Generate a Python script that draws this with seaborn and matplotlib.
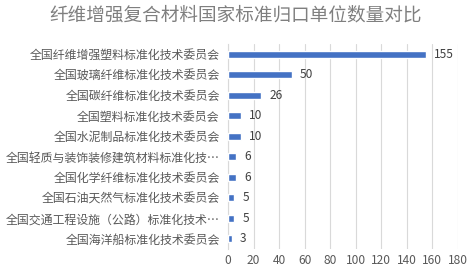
import matplotlib
matplotlib.use('Agg')
import matplotlib.pyplot as plt
import seaborn as sns
import pandas as pd

committees = ['全国纤维增强塑料标准化技术委员会', '全国玻璃纤维标准化技术委员会', '全国碳纤维标准化技术委员会',
              '全国塑料标准化技术委员会', '全国水泥制品标准化技术委员会', '全国轻质与装饰装修建筑材料标准化技…',
              '全国化学纤维标准化技术委员会', '全国石油天然气标准化技术委员会', '全国交通工程设施（公路）标准化技术…',
              '全国海洋船标准化技术委员会']
counts = [155, 50, 26, 10, 10, 6, 6, 5, 5, 3]
xticks = [0, 20, 40, 60, 80, 100, 120, 140, 160, 180]

sns.set_style('white')
plt.rcParams['font.family'] = ['Noto Sans CJK SC', 'DejaVu Sans']

df = pd.DataFrame({'name': committees, 'count': counts})

fig = plt.figure(figsize=(4.71, 2.77), dpi=100)
ax = fig.add_axes([0.484, 0.101, 0.488, 0.74])
sns.barplot(data=df, x='count', y='name', orient='h', color='#4472C4', width=0.34,
            saturation=1, ax=ax, zorder=3)

ax.set_xlim(0, 180)
ax.set_xticks(xticks)
ax.set_xticklabels([str(t) for t in xticks])
ax.set_xlabel('')
ax.set_ylabel('')
ax.xaxis.grid(True, color='#D9D9D9', linewidth=0.8, zorder=0)
for s in ['top', 'right', 'bottom']:
    ax.spines[s].set_visible(False)
ax.spines['left'].set_color('#D9D9D9')
ax.tick_params(axis='both', length=0, colors='#595959', labelsize=8.6)
ax.tick_params(axis='y', pad=6)

# value labels next to bars
for i, v in enumerate(counts):
    ax.text(v + 6.5, i, str(v), va='center', ha='left', fontsize=8.6, color='#404040')

fig.text(0.5, 0.945, '纤维增强复合材料国家标准归口单位数量对比', ha='center', va='center',
         fontsize=13.4, color='#7F7F7F')

fig.savefig('out.png', dpi=100)
